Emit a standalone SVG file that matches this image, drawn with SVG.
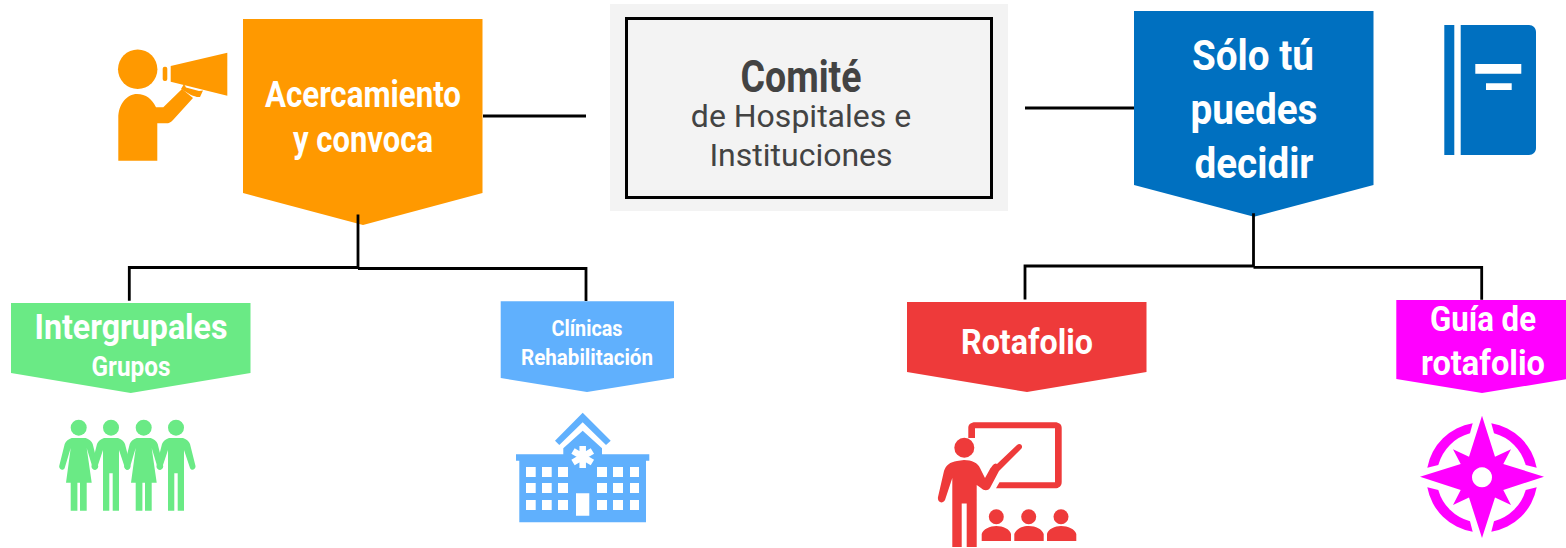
<svg xmlns="http://www.w3.org/2000/svg" width="1566" height="548" viewBox="0 0 1566 548">
<style>
.h{font-family:"Roboto","Liberation Sans",sans-serif;font-weight:700;fill:#fff;text-anchor:middle}
.c{fill:none;stroke:#000;stroke-width:2.800}
.sub{font-family:"Roboto","Liberation Sans",sans-serif;font-size:32px;fill:#434343;text-anchor:middle}
</style>
<defs>
<path id="woman" d="M-7 438C-10 439-13 441-14 444L-19.500 466C-20 470-15 471-14 468L-8 448L-12.700 482.700H-8V510.700H-1.300V482.700H1.300V510.700H8V482.700H13L8 448L14 468C15 471 20 470 19.500 466L14 444C13 441 10 439 7 438Z"/>
<path id="man" d="M-7 438C-10 439-13 441-14 444L-19.500 466C-20 470-15 471-14 468L-8 450V510.700H-1.700V473.300H1.700V510.700H8V450L14 468C15 471 20 470 19.500 466L14 444C13 441 10 439 7 438Z"/>
</defs>
<rect width="1566" height="548" fill="#fff"/>
<g id="comite">
<rect x="610" y="4" width="398" height="207" fill="#f3f3f3"/>
<rect x="626.500" y="18.500" width="365" height="179" fill="#f3f3f3" stroke="#000" stroke-width="3"/>
<text x="801" y="92" class="h" font-size="45" style="fill:#434343" textLength="121" lengthAdjust="spacingAndGlyphs">Comité</text>
<text x="801" y="127" class="sub">de Hospitales e</text>
<text x="801" y="166" class="sub">Instituciones</text>
</g>
<g id="acercamiento">
<path d="M243 19H482.500V193L363 225L243 193Z" fill="#ff9900"/>
<text x="363" y="107" class="h" font-size="36" textLength="196" lengthAdjust="spacingAndGlyphs">Acercamiento</text>
<text x="363" y="152" class="h" font-size="36" textLength="140" lengthAdjust="spacingAndGlyphs">y convoca</text>
</g>
<g id="solo">
<path d="M1134 11H1373.500V185L1254 216.700L1134 185Z" fill="#0070c0"/>
<text x="1253" y="70" class="h" font-size="42" textLength="122" lengthAdjust="spacingAndGlyphs">Sólo tú</text>
<text x="1254" y="124" class="h" font-size="42" textLength="127" lengthAdjust="spacingAndGlyphs">puedes</text>
<text x="1254" y="178" class="h" font-size="42" textLength="119" lengthAdjust="spacingAndGlyphs">decidir</text>
</g>
<g id="intergrupales">
<path d="M11 303H250.500V373L130.700 393L11 373Z" fill="#6aea85"/>
<text x="131" y="339" class="h" font-size="35" textLength="193" lengthAdjust="spacingAndGlyphs">Intergrupales</text>
<text x="131" y="376" class="h" font-size="27" textLength="79" lengthAdjust="spacingAndGlyphs">Grupos</text>
</g>
<g id="clinicas">
<path d="M500.700 301.300H674V378L587 392L500.700 378Z" fill="#60b0fd"/>
<text x="587" y="336" class="h" font-size="22" textLength="71" lengthAdjust="spacingAndGlyphs">Clínicas</text>
<text x="587" y="365" class="h" font-size="22" textLength="132" lengthAdjust="spacingAndGlyphs">Rehabilitación</text>
</g>
<g id="rotafolio">
<path d="M907 302H1146.500V372L1027 392L907 372Z" fill="#ee3a3a"/>
<text x="1027" y="354" class="h" font-size="35" textLength="132" lengthAdjust="spacingAndGlyphs">Rotafolio</text>
</g>
<g id="guia">
<path d="M1396.300 300H1568V379L1482 393L1396.300 379Z" fill="#ff00ff"/>
<text x="1483" y="331" class="h" font-size="35" textLength="106" lengthAdjust="spacingAndGlyphs">Guía de</text>
<text x="1483" y="375" class="h" font-size="35" textLength="124" lengthAdjust="spacingAndGlyphs">rotafolio</text>
</g>
<g id="connectors">
<path class="c" d="M483 116H586M1025 108H1134"/>
<path class="c" d="M358 214.500V269M358 267.500H129.300V300.700M358 268.500H586V301"/>
<path class="c" d="M1253.500 213.300V267.500M1253.500 266H1025V299.500M1253.500 267.300H1481.700V299.700"/>
</g>
<g id="icon-megaphone" fill="#ff9900">
<circle cx="137.700" cy="69.300" r="19.700"/>
<rect x="162.700" y="66.700" width="4.600" height="14.300" rx="2"/>
<path d="M170.700 66L227.300 52.700V95.700L170.700 81.700Z"/>
<path d="M118.300 160.700V118C118.300 104 127 94 137 94C146 94 152 99 156 107.300H163.300L182 89L193 98L173 120C171 122.500 169 123.300 166 123.300H157.300V160.700Z"/>
<path d="M184 84L186 87.500L199 91L203 90.500L200 97C197 97.500 194 96 191 95L181 89Z"/>
</g>
<g id="icon-people" fill="#6aea85">
<circle cx="78.700" cy="427.700" r="8"/><circle cx="111" cy="427.700" r="8"/><circle cx="143.700" cy="427.700" r="8"/><circle cx="176" cy="427.700" r="8"/>
<use href="#woman" x="78.700"/><use href="#man" x="111"/><use href="#woman" x="143.700"/><use href="#man" x="176"/>
</g>
<g id="icon-hospital" fill="#60b0fd">
<path d="M555 440.700L582.700 412.700L610.700 440.700L606 445L582.700 422.300L559.300 445Z"/>
<path fill-rule="evenodd" d="M516 454.300H563.300V448.300L582.700 430.700L602 448.300V454.300H649.300V460.700H646V522.300H519.300V460.700H516ZM526 467V477H535.700V467ZM542 467V477H551.700V467ZM558 467V477H568V467ZM597 467V477H607V467ZM613 467V477H623V467ZM630 467V477H639V467ZM526 483V493H535.700V483ZM542 483V493H551.700V483ZM558 483V493H568V483ZM597 483V493H607V483ZM613 483V493H623V483ZM630 483V493H639V483ZM526 500V510H535.700V500ZM542 500V510H551.700V500ZM558 500V510H568V500ZM597 500V510H607V500ZM613 500V510H623V500ZM630 500V510H639V500ZM576 493.300V515.700H589.300V493.300Z"/>
<path d="M582.700 446V468M573 451L592.400 462.500M592.400 451L573 462.500" stroke="#fff" stroke-width="6.500" fill="none"/>
</g>
<g id="icon-teacher" fill="#ee3a3a">
<path d="M968.300 438V428C968.300 424.500 971 422.300 975 422.300H1055C1059 422.300 1061.700 424.500 1061.700 428V482C1061.700 486 1059 488.300 1055 488.300H996L999.500 482.300H1055V428.300H975V438Z"/>
<circle cx="964.300" cy="447.700" r="10"/>
<path d="M957 461C950 462 946 465 944 471L938 497C937 503 943 504 945 500L952.300 478V547H961.700V503.500H966.700V547H976.700V485L981 488C984 491 988 491 990 488L999 471L1021 449C1024 446 1020 442 1017 445L997 464C995 462 992 466 990 469L985 478L980 468C978 463 972 460 964 460Z"/>
<circle cx="996.300" cy="516.700" r="7.500"/><circle cx="1028.700" cy="516.700" r="7.500"/><circle cx="1061" cy="516.700" r="7.500"/>
<path d="M981.700 541V534C983 529 990 526 996.300 526C1003 526 1010 529 1011 534V541ZM1014.300 541V534C1016 529 1022 526 1028.700 526C1036 526 1042 529 1043.700 534V541ZM1047 541V534C1048 529 1055 526 1061 526C1068 526 1075 529 1076.300 534V541Z"/>
</g>
<g id="icon-compass" fill="#ff00ff">
<path fill-rule="evenodd" d="M1482 415.700L1495 456.700L1511 449.300L1503.300 464L1544 476.700L1503.300 490L1511 505L1495 497.500L1482 538L1469 497.500L1453 505L1460.700 490L1420 476.700L1460.700 464L1453 449.300L1469 456.700ZM1482 467.300A10 10 0 1 0 1482.010 467.300Z"/>
<path d="M1472.700 423.300A55 55 0 0 0 1427.300 467.700L1438.300 465A45 45 0 0 1 1470 433.300ZM1491.300 423.300A55 55 0 0 1 1536.700 467.700L1525.700 465A45 45 0 0 0 1494 433.300ZM1427.300 487.300L1438.300 490A45 45 0 0 0 1470 521.300L1472.700 531.700A55 55 0 0 1 1427.300 487.300ZM1536.700 487.300A55 55 0 0 1 1491.300 531.700L1494 521.300A45 45 0 0 0 1525.700 490Z"/>
</g>
<g id="icon-book" fill="#0070c0">
<rect x="1444.300" y="25" width="10" height="130"/>
<path fill-rule="evenodd" d="M1460.700 25H1529C1533 25 1536 28 1536 32V148C1536 152 1533 155 1529 155H1460.700ZM1475.300 64V73.700H1521.300V64ZM1486 83.300V90H1511.700V83.300Z"/>
</g>
</svg>
